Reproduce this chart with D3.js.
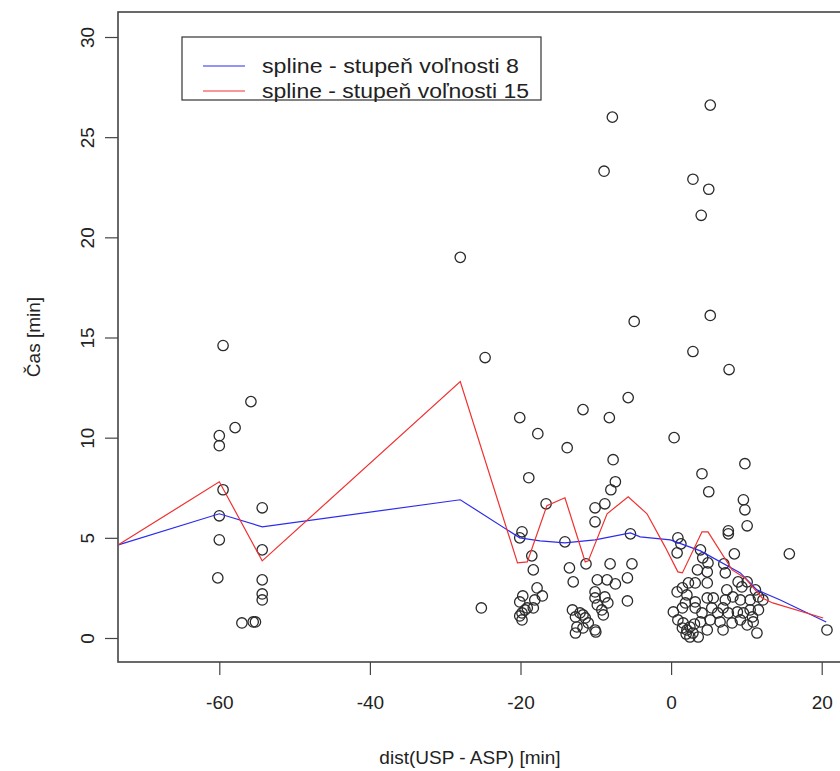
<!DOCTYPE html>
<html>
<head>
<meta charset="utf-8">
<script src="https://cdn.jsdelivr.net/npm/d3@7"></script>
<style>
  html, body { margin: 0; padding: 0; background: #fff; }
  svg { display: block; }
  text { font-family: "Liberation Sans", Arial, sans-serif; fill: #222; }
</style>
</head>
<body>
<svg id="chart" width="840" height="771"></svg>
<script>
// Observations: difference of USP and ASP times (x) vs. time in minutes (y)
const distX = [
  -59.5, -60.0, -60.0, -57.9, -55.8, -59.5, -60.0, -60.0, -60.2, -54.3, -54.3, -54.3, -54.3, -54.3, -57.0, -55.5, -55.2,
  -28.0, -24.7, -25.2,
  -20.1, -17.7, -18.9, -16.6, -19.8, -20.1, -18.5, -18.3, -17.8, -17.1, -19.7, -18.1, -20.1, -19.1, -18.3, -19.4, -19.8, -19.8, -20.1,
  -11.7, -13.8, -14.1, -13.5, -13.0, -11.3, -13.1, -12.7, -12.5, -12.1, -11.4, -11.0, -11.7, -10.1, -10.0, -12.7, -11.7,
  -8.2, -5.7, -4.9, -8.9, -7.8, -7.7, -7.4, -8.0, -8.8, -10.1, -10.1, -5.4, -8.1, -5.2, -5.8, -9.8, -8.5, -7.4, -10.1, -10.1, -9.8, -8.8, -8.4, -9.2, -5.8, -9.0,
  5.2, 2.9, 5.0, 4.0, 5.2, 2.9, 7.7, 0.4, 9.8, 4.1, 5.0, 9.6, 9.8, 10.1, 7.6, 7.6, 0.9, 1.3, 0.8, 3.9, 8.4, 15.7,
  4.2, 4.9, 3.5, 4.8, 7.0, 7.2, 2.3, 3.2, 4.8, 0.8, 1.5, 2.1, 1.9, 3.2, 4.8, 5.6, 7.4, 8.9, 9.4, 10.1, 11.2, 11.6, 12.2, 10.5, 9.2, 8.2, 7.2,
  0.3, 1.5, 3.2, 4.1, 5.4, 6.2, 6.9, 7.6, 8.8, 9.6, 10.5, 11.6,
  0.9, 1.6, 2.5, 2.1, 2.9, 1.5, 3.6, 2.5, 3.9, 4.8, 5.2, 6.5, 6.9, 8.1, 9.2, 10.1, 10.9, 11.4, 10.8, 3.1, 2.0, 20.7
];
const casY = [
  14.6, 10.1, 9.6, 10.5, 11.8, 7.4, 6.1, 4.9, 3.0, 6.5, 4.4, 2.9, 2.2, 1.9, 0.75, 0.8, 0.8,
  19.0, 14.0, 1.5,
  11.0, 10.2, 8.0, 6.7, 5.3, 5.0, 4.1, 3.4, 2.5, 2.1, 2.1, 1.9, 1.8, 1.5, 1.5, 1.4, 1.25, 0.9, 1.1,
  11.4, 9.5, 4.8, 3.5, 2.8, 3.7, 1.4, 1.05, 0.55, 1.25, 1.0, 0.75, 0.5, 0.4, 0.3, 0.25, 1.15,
  11.0, 12.0, 15.8, 23.3, 26.0, 8.9, 7.8, 7.4, 6.7, 6.5, 5.8, 5.2, 3.7, 3.7, 3.0, 2.9, 2.9, 2.7, 2.3, 2.0, 1.65, 2.05, 1.75, 1.4, 1.85, 1.15,
  26.6, 22.9, 22.4, 21.1, 16.1, 14.3, 13.4, 10.0, 8.7, 8.2, 7.3, 6.9, 6.4, 5.6, 5.35, 5.2, 5.0, 4.7, 4.25, 4.4, 4.2, 4.2,
  4.0, 3.75, 3.4, 3.3, 3.7, 3.25, 2.75, 2.75, 2.75, 2.3, 2.5, 2.15, 1.75, 1.8, 2.0, 2.0, 2.4, 2.8, 2.55, 2.8, 2.4, 2.05, 1.9, 1.9, 1.9, 2.05, 1.9,
  1.3, 1.5, 1.5, 1.25, 1.5, 1.25, 1.5, 1.25, 1.3, 1.25, 1.4, 1.4,
  0.9, 0.75, 0.55, 0.4, 0.25, 0.5, 0.05, 0.05, 0.8, 0.4, 0.9, 0.8, 0.4, 0.75, 0.9, 0.65, 0.8, 0.25, 1.05, 0.7, 0.2, 0.4
];

// Fitted smoothing splines evaluated along x
const spline8X = [-73.4, -60.0, -54.3, -28.0, -20.1, -17.4, -14.1, -10.1, -5.4, -4.1, -0.1, 3.9, 9.2, 11.4, 14.5, 20.6];
const spline8Y = [4.65, 6.2, 5.55, 6.9, 5.0, 4.85, 4.75, 4.9, 5.25, 5.05, 4.9, 4.35, 3.25, 2.4, 1.9, 0.8];
const spline15X = [-73.4, -60.0, -54.3, -28.0, -20.4, -19.1, -16.5, -14.1, -11.4, -11.0, -8.5, -5.7, -3.2, -0.8, 0.9, 1.5, 4.1, 4.9, 8.1, 9.8, 12.1, 13.5, 20.2];
const spline15Y = [4.65, 7.8, 3.85, 12.8, 3.75, 3.8, 6.6, 7.0, 3.8, 3.85, 6.2, 7.05, 6.2, 4.55, 3.3, 3.25, 5.3, 5.3, 3.4, 3.0, 2.0, 1.75, 1.0];

const xTicks = [-60, -40, -20, 0, 20];
const yTicks = [0, 5, 10, 15, 20, 25, 30];

const legendLabels = ["spline - stupeň voľnosti 8", "spline - stupeň voľnosti 15"];
const legendColors = ["#2b2bf0", "#f03030"];

const svg = d3.select("#chart");
const frame = { left: 118, right: 850, top: 12, bottom: 662 };

const x = d3.scaleLinear().domain([-60, 20]).range([219.3, 821.7]);
const y = d3.scaleLinear().domain([0, 30]).range([638, 37]);

// plain hyphen-minus labels
const tickFmt = d => String(d);

svg.append("defs").append("clipPath").attr("id", "plotClip")
  .append("rect")
  .attr("x", frame.left).attr("y", frame.top)
  .attr("width", frame.right - frame.left).attr("height", frame.bottom - frame.top);

// Axes: ticks outside the frame, no domain line
const xAxis = svg.append("g")
  .attr("transform", `translate(0,${frame.bottom})`)
  .call(d3.axisBottom(x).tickValues(xTicks).tickSize(13).tickPadding(21).tickFormat(tickFmt));
xAxis.select(".domain").remove();
xAxis.selectAll("line").attr("stroke", "#444").attr("stroke-width", 1.2);
xAxis.selectAll("text").attr("font-size", 19).attr("fill", "#222")
  .attr("font-family", "Liberation Sans, Arial, sans-serif");

const yAxis = svg.append("g")
  .attr("transform", `translate(${frame.left},0)`)
  .call(d3.axisLeft(y).tickValues(yTicks).tickSize(13).tickPadding(0).tickFormat(tickFmt));
yAxis.select(".domain").remove();
yAxis.selectAll("line").attr("stroke", "#444").attr("stroke-width", 1.2);
yAxis.selectAll("text")
  .attr("x", null)
  .attr("text-anchor", "middle")
  .attr("transform", "translate(-24,0) rotate(-90)")
  .attr("dy", "0em")
  .attr("font-size", 19).attr("fill", "#222")
  .attr("font-family", "Liberation Sans, Arial, sans-serif");

// Plot frame
svg.append("rect")
  .attr("x", frame.left).attr("y", frame.top)
  .attr("width", frame.right - frame.left).attr("height", frame.bottom - frame.top)
  .attr("fill", "none").attr("stroke", "#444").attr("stroke-width", 1.6);

const plot = svg.append("g").attr("clip-path", "url(#plotClip)");

// Points
plot.selectAll("circle.obs")
  .data(d3.range(distX.length))
  .join("circle")
  .attr("class", "obs")
  .attr("cx", i => x(distX[i]))
  .attr("cy", i => y(casY[i]))
  .attr("r", 5.2)
  .attr("fill", "none")
  .attr("stroke", "#2a2a2a")
  .attr("stroke-width", 1.3);

// Spline curves
const line = d3.line().x(d => x(d[0])).y(d => y(d[1]));
plot.append("path")
  .datum(d3.zip(spline8X, spline8Y))
  .attr("d", line).attr("fill", "none")
  .attr("stroke", legendColors[0]).attr("stroke-width", 1.2);
plot.append("path")
  .datum(d3.zip(spline15X, spline15Y))
  .attr("d", line).attr("fill", "none")
  .attr("stroke", legendColors[1]).attr("stroke-width", 1.2);

// Axis titles
svg.append("text")
  .attr("x", 470).attr("y", 764)
  .attr("text-anchor", "middle").attr("font-size", 19)
  .text("dist(USP - ASP) [min]");
svg.append("text")
  .attr("transform", "translate(40,337) rotate(-90)")
  .attr("text-anchor", "middle").attr("font-size", 19)
  .text("Čas [min]");

// Legend
const legendWidths = [257, 267];
const legend = svg.append("g");
legend.append("rect")
  .attr("x", 182).attr("y", 37).attr("width", 359).attr("height", 63)
  .attr("fill", "#fff").attr("stroke", "#333").attr("stroke-width", 1.2);
legendLabels.forEach((lab, i) => {
  const ly = 66 + i * 25;
  legend.append("line")
    .attr("x1", 203).attr("x2", 245).attr("y1", ly).attr("y2", ly)
    .attr("stroke", legendColors[i]).attr("stroke-width", 1.2);
  legend.append("text")
    .attr("x", 262).attr("y", ly).attr("dy", "0.35em")
    .attr("font-size", 19.5)
    .attr("textLength", legendWidths[i])
    .attr("lengthAdjust", "spacingAndGlyphs")
    .text(lab);
});
</script>
</body>
</html>
